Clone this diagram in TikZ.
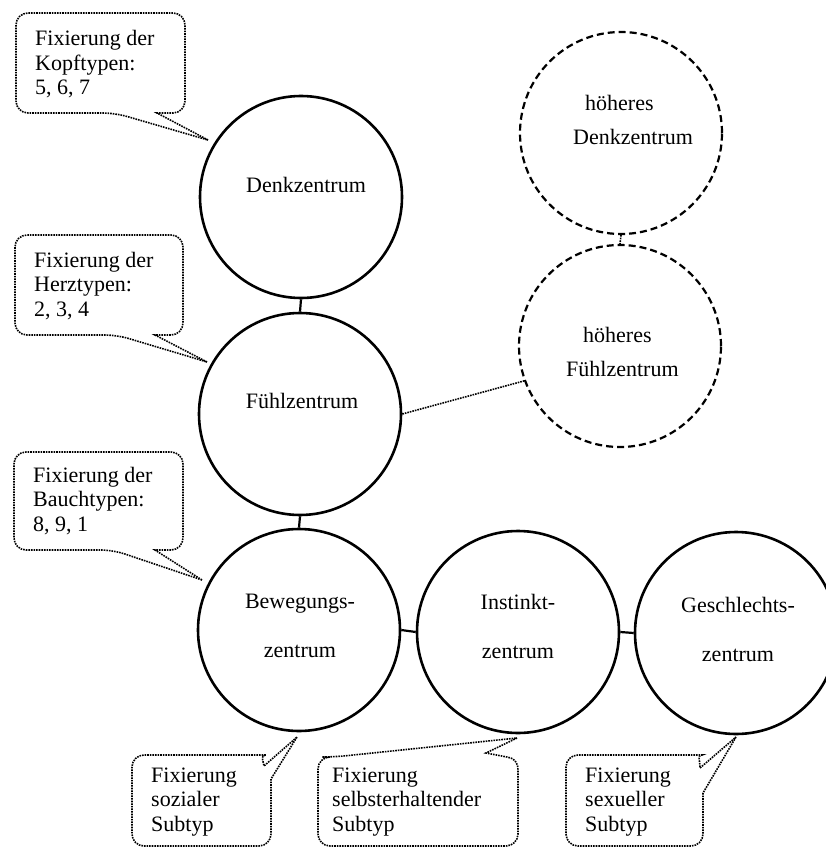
\documentclass[tikz,border=0pt]{standalone}
\usepackage{fontspec}
\setmainfont{Liberation Serif}
\begin{document}
\begin{tikzpicture}[x=1pt,y=-1pt,
  centre/.style={circle,draw,line width=2.6pt,minimum size=202pt,inner sep=0pt},
  higher/.style={circle,draw,line width=2.2pt,dash pattern=on 7pt off 4pt,minimum size=202pt,inner sep=0pt},
  lbl/.style={font=\fontsize{22}{49}\selectfont,inner sep=0pt,anchor=base,align=center},
  hlbl/.style={font=\fontsize{22}{34}\selectfont,inner sep=0pt,anchor=base west,align=left},
  note/.style={font=\fontsize{22}{24.5}\selectfont,inner sep=0pt,anchor=base west,align=left},
  callout/.style={draw=black,line width=1.6pt,densely dotted},
  link/.style={line width=2.2pt},
  dlink/.style={line width=1.6pt,densely dotted}]
\useasboundingbox (0,0) rectangle (825,848);
\fill[white] (0,0) rectangle (825,848);

% the centres
\node[centre] (denk) at (301,197) {};
\node[centre] (fuehl) at (300,414) {};
\node[centre] (beweg) at (299,630) {};
\node[centre] (instinkt) at (518,632) {};
\node[centre] (geschl) at (736,633) {};
\node[higher] (hdenk) at (621,133) {};
\node[higher] (hfuehl) at (620,346) {};

% labels inside the centres (anchored at the baseline of the last line)
\node[lbl] (denkT) at (306,192) {Denkzentrum};
\node[lbl] (fuehlT) at (302,408) {Fühlzentrum};
\node[lbl] (bewegT) at (300,657) {Bewegungs-\\zentrum};
\node[lbl] (instinktT) at (518,658) {Instinkt-\\zentrum};
\node[lbl] (geschlT) at (738,661) {Geschlechts-\\zentrum};
\node[hlbl] (hdenkT) at (573,144) {\hspace*{12pt}höheres\\Denkzentrum};
\node[hlbl] (hfuehlT) at (566,376) {\hspace*{17pt}höheres\\Fühlzentrum};

% connections between the centres
\draw[link] (denk.south) -- (fuehl.north);
\draw[link] (fuehl.south) -- (beweg.north);
\draw[link] (beweg.east) -- (instinkt.west);
\draw[link] (instinkt.east) -- (geschl.west);
\draw[dlink] (hdenk.south) -- (hfuehl.north);
\draw[dlink] (fuehl.east) -- (hfuehl.200);

% speech bubbles on the left
\draw[callout] (208,140) -- (157,113) [rounded corners=12pt] -- (185,113) -- (185,13) -- (16,13) -- (16,113) -- (115,113) [sharp corners] -- cycle;
\node[note] (kopf) at (35,95) {Fixierung der\\Kopftypen:\\5, 6, 7};

\draw[callout] (207,362) -- (155,335) [rounded corners=12pt] -- (183,335) -- (183,235) -- (15,235) -- (15,335) -- (117,335) [sharp corners] -- cycle;
\node[note] (herz) at (34,316) {Fixierung der\\Herztypen:\\2, 3, 4};

\draw[callout] (202,580) -- (155,550) [rounded corners=12pt] -- (183,550) -- (183,452) -- (14,452) -- (14,550) -- (113,550) [sharp corners] -- cycle;
\node[note] (bauch) at (33,531) {Fixierung der\\Bauchtypen:\\8, 9, 1};

% speech bubbles at the bottom
\draw[callout] (297,737) -- (271,779) [rounded corners=12pt] -- (271,846) -- (132,846) -- (132,755) -- (254,755) [sharp corners] .. controls (260,755) and (263,760) .. (264,766) -- cycle;
\node[note] (sozial) at (151,831) {Fixierung\\sozialer\\Subtyp};

\draw[callout] (517,738) -- (486,753) -- (507,757) .. controls (514,758) and (518,762) .. (518,770) [rounded corners=12pt] -- (518,846) -- (318,846) -- (318,757) -- (334,757) [sharp corners] -- cycle;
\node[note] (selbst) at (332,831) {Fixierung\\selbsterhaltender\\Subtyp};

\draw[callout] (736,737) -- (703,793) [rounded corners=12pt] -- (703,846) -- (566,846) -- (566,755) -- (690,755) [sharp corners] .. controls (697,755) and (700,760) .. (700,768) -- cycle;
\node[note] (sexuell) at (585,831) {Fixierung\\sexueller\\Subtyp};
\end{tikzpicture}
\end{document}
